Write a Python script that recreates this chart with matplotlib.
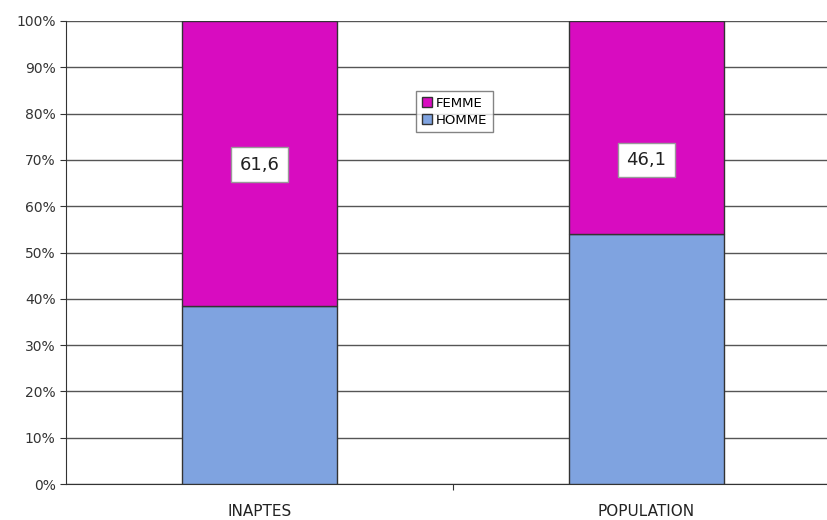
import numpy as np
import matplotlib.pyplot as plt
from matplotlib.ticker import PercentFormatter

categories = ["INAPTES", "POPULATION"]
femme = [61.6, 46.1]
homme = [38.4, 53.9]
labels = ["61,6", "46,1"]
label_y = [69, 70]

plt.rcParams['font.family'] = ['Verdana', 'DejaVu Sans']

fig = plt.figure(figsize=(8.28, 5.20), dpi=100)
ax = fig.add_axes([66 / 828, 1 - 484 / 520, (840 - 66) / 828, (484 - 21) / 520])

x = np.arange(len(categories))
ax.bar(x, homme, width=0.4, color="#7fa3e0", edgecolor="#333333", linewidth=1, label="HOMME", zorder=3)
ax.bar(x, femme, width=0.4, bottom=homme, color="#d80cc0", edgecolor="#333333", linewidth=1, label="FEMME", zorder=3)

for xi, lab, yy in zip(x, labels, label_y):
    ax.text(xi, yy, lab, ha="center", va="center", fontsize=13, color="#222222", zorder=4,
            bbox=dict(facecolor="white", edgecolor="#999999", boxstyle="square,pad=0.45"))

ax.set_xlim(-0.5, 1.5)
ax.set_ylim(0, 100)
ax.set_yticks(np.arange(0, 101, 10))
ax.yaxis.set_major_formatter(PercentFormatter(decimals=0))
ax.set_xticks([0.5])
ax.set_xticklabels([""])
ax.tick_params(axis="x", length=4, color="#333333")
ax.tick_params(axis="y", length=4, color="#333333", labelsize=10, labelcolor="#333333")
for xi, c in zip(x, categories):
    ax.text(xi, -6.0, c, ha="center", va="center", fontsize=11, color="#222222")

ax.grid(axis="y", color="#555555", linewidth=1, zorder=0)
for s in ["top", "right"]:
    ax.spines[s].set_visible(False)
ax.spines["left"].set_color("#333333")
ax.spines["bottom"].set_color("#333333")

handles, labs = ax.get_legend_handles_labels()
leg = ax.legend(handles[::-1], labs[::-1], loc="upper left", bbox_to_anchor=(0.444, 0.862),
                fontsize=9.5, frameon=True, fancybox=False, edgecolor="#666666",
                handlelength=0.8, handleheight=0.8, handletextpad=0.3, borderpad=0.4,
                labelspacing=0.3)
leg.get_frame().set_linewidth(1)

fig.savefig("out.png", dpi=100)
